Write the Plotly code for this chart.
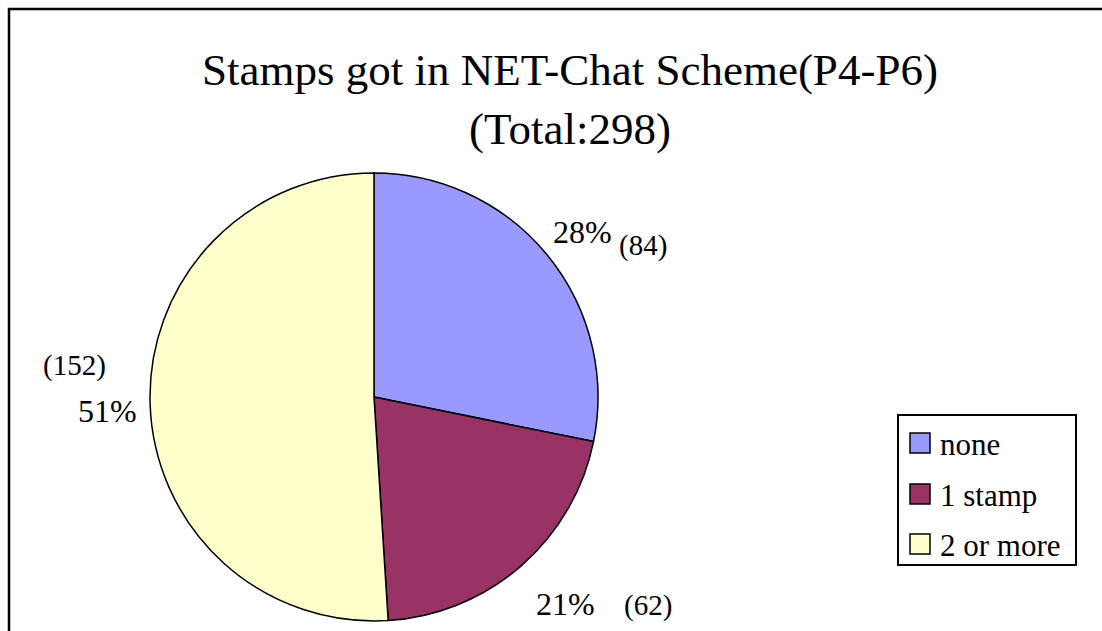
import math
import plotly.graph_objects as go

# ---- data ----
labels = ["none", "1 stamp", "2 or more"]
counts = [84, 62, 152]
colors = ["#9999FF", "#993366", "#FFFFCC"]
title_line1 = "Stamps got in NET-Chat Scheme(P4-P6)"

total = sum(counts)
W, H = 1102, 631
FONT = "Liberation Serif, Times New Roman, serif"

# pie geometry (pixels)
cx, cy, r = 374, 397, 224

def px(x):
    return x / W

def py(y):
    return 1 - y / H

fig = go.Figure(go.Pie(
    labels=labels,
    values=counts,
    marker=dict(colors=colors, line=dict(color="black", width=1.5)),
    sort=False,
    direction="clockwise",
    rotation=0,
    textinfo="none",
    hoverinfo="label+value+percent",
    domain=dict(x=[px(cx - r), px(cx + r)], y=[py(cy + r), py(cy - r)]),
    showlegend=False,
))

annotations = []
shapes = []

# slice labels: percentage along mid-angle (with small nudges), count next to it
pct_nudges = [(0, 5), (15, 4), (2, 6)]
count_offsets = [(61, 14), (82, 2), (-33, -46)]
cum = 0
for i, v in enumerate(counts):
    mid = (cum + v / 2) / total * 2 * math.pi
    cum += v
    lx = cx + 1.2 * r * math.sin(mid) + pct_nudges[i][0]
    ly = cy - 1.2 * r * math.cos(mid) + pct_nudges[i][1]
    pct = round(v / total * 100)
    annotations.append(dict(x=px(lx), y=py(ly), xref="paper", yref="paper",
                            text=f"{pct}%", showarrow=False,
                            font=dict(family=FONT, size=32, color="black"),
                            xanchor="center", yanchor="middle"))
    ox, oy = count_offsets[i]
    annotations.append(dict(x=px(lx + ox), y=py(ly + oy), xref="paper", yref="paper",
                            text=f"({v})", showarrow=False,
                            font=dict(family=FONT, size=29, color="black"),
                            xanchor="center", yanchor="middle"))

# outer frame
shapes.append(dict(type="rect", xref="paper", yref="paper",
                   x0=px(9), x1=px(1120), y0=py(650), y1=py(9),
                   line=dict(color="black", width=2.5)))

# legend (drawn manually)
shapes.append(dict(type="rect", xref="paper", yref="paper",
                   x0=px(898), x1=px(1076), y0=py(565), y1=py(415),
                   line=dict(color="black", width=2), fillcolor="white"))
leg_y = [443, 494, 544]
for lab, col, yy in zip(labels, colors, leg_y):
    shapes.append(dict(type="rect", xref="paper", yref="paper",
                       x0=px(910), x1=px(930), y0=py(yy + 10), y1=py(yy - 10),
                       line=dict(color="black", width=1.5), fillcolor=col))
    annotations.append(dict(x=px(938), y=py(yy + 1), xref="paper", yref="paper",
                            text=lab, showarrow=False,
                            font=dict(family=FONT, size=31, color="black"),
                            xanchor="left", yanchor="middle"))

fig.update_layout(
    width=W, height=H,
    margin=dict(l=0, r=0, t=0, b=0),
    paper_bgcolor="white",
    plot_bgcolor="white",
    title=dict(text=f"{title_line1}<br>(Total:{total})",
               x=570 / W, xanchor="center", y=py(85), yanchor="middle",
               yref="container", xref="container",
               font=dict(family=FONT, size=45, color="black")),
    annotations=annotations,
    shapes=shapes,
)

fig.write_html("out.html", config={"displayModeBar": False},
               post_script="document.body.style.margin='0';document.body.style.overflow='hidden';")
